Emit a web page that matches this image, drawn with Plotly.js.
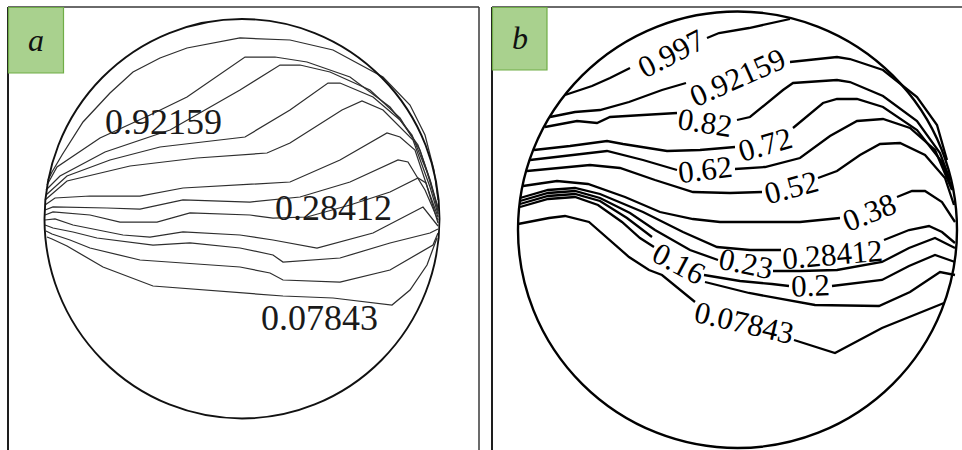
<!DOCTYPE html>
<html>
<head>
<meta charset="utf-8">
<script src="https://cdn.plot.ly/plotly-3.0.1.min.js"></script>
<style>
  html, body { margin: 0; padding: 0; background: #ffffff; }
  #chart { width: 962px; height: 450px; }
</style>
</head>
<body>
<div id="chart"></div>
<script>
// Contour levels, top to bottom (same set in both panels)
const levels = [0.997, 0.92159, 0.82, 0.72, 0.62, 0.52, 0.38, 0.28412, 0.23, 0.2, 0.16, 0.07843];

// Panel a: digitised isolines, [x, y] in drawing units (y grows downward)
const a1  = [[48,180],[52,172],[62,155],[83,122],[110,93],[133,72],[160,58],[187,48],[240,38],[290,40],[333,50],[383,77],[410,105],[425,135],[434,170],[438,200]];
const a2  = [[47,185],[57,167],[100,138],[150,115],[187,97],[245,57],[275,57],[307,62],[350,77],[390,107],[412,135],[427,172],[437,205]];
const a3  = [[46,190],[60,176],[105,152],[170,130],[240,90],[280,65],[300,65],[330,72],[370,90],[400,118],[420,150],[431,183],[438,208]];
const a4  = [[46,195],[67,176],[110,160],[160,147],[245,137],[290,110],[328,83],[340,83],[373,97],[400,120],[418,145],[430,180],[438,211]];
const a5  = [[45,200],[67,181],[130,166],[197,158],[267,153],[290,143],[342,110],[362,101],[383,110],[413,140],[430,187],[438,214]];
const a6  = [[45,205],[55,198],[90,196],[140,196],[183,188],[250,184],[290,182],[340,160],[387,133],[400,137],[415,150],[430,195],[438,217]];
const a7  = [[45,210],[53,207],[107,208],[140,209],[183,200],[250,202],[300,197],[350,182],[398,160],[408,162],[425,190],[438,220]];
const a8  = [[45,215],[53,212],[90,215],[120,222],[157,222],[190,213],[250,215],[273,218],[307,217],[350,205],[390,192],[418,178],[426,183],[438,223]];
const a9  = [[45,220],[55,219],[73,225],[123,235],[150,237],[183,232],[240,235],[273,240],[317,248],[373,233],[423,207],[438,226]];
const a10 = [[45,225],[53,228],[73,232],[97,238],[153,245],[190,243],[240,248],[273,255],[283,262],[340,258],[390,243],[430,233],[438,229]];
const a11 = [[46,231],[52,234],[70,240],[90,248],[140,260],[240,267],[270,273],[283,280],[340,282],[390,270],[433,245],[438,233]];
const a12 = [[47,237],[52,239],[67,246],[103,267],[153,286],[250,294],[283,296],[333,298],[373,303],[392,305],[410,290],[427,265],[437,238]];
const aLines = [a1, a2, a3, a4, a5, a6, a7, a8, a9, a10, a11, a12];

// Panel a: labelled levels and where their labels sit
const aLabelLevel = [0.92159, 0.28412, 0.07843];
const aLabelX = [163, 333, 319];
const aLabelY = [122, 208, 318];

// Panel b: digitised isolines (null = break where the label sits)
const b1  = [[85,95],[112,86],[130,78],[150,68],null,[227,38],[239,33],[269,28],[310,19]];
const b2  = [[70,117],[95,112],[120,110],[149,102],[182,90],[206,83],null,[310,62],[357,57],[370,59],[403,70],[437,97],[457,125],[467,160]];
const b3  = [[65,127],[97,121],[117,123],[130,117],[163,115],[197,113],null,[257,120],[270,117],[303,90],[313,83],[357,80],[370,82],[403,96],[437,121],[460,153],[470,180]];
const b4  = [[54,150],[90,146],[127,141],[143,144],[187,151],[220,150],[255,147],null,[313,128],[343,103],[357,99],[377,99],[403,107],[437,130],[462,162],[472,188]];
const b5  = [[50,160],[90,155],[127,151],[163,160],[197,170],null,[255,169],[285,167],[320,158],[350,136],[377,121],[403,119],[430,128],[455,150],[472,190]];
const b6  = [[47,171],[80,168],[110,165],[140,168],[175,180],[213,192],[250,193],[282,192],null,[338,178],[357,171],[380,155],[400,144],[420,143],[445,155],[465,178],[474,205]];
const b7  = [[43,186],[77,181],[108,184],[145,197],[180,212],[213,219],[240,222],[280,222],[320,222],[360,218],null,[417,197],[432,191],[445,191],[462,202],[475,222]];
const b8  = [[40,198],[68,190],[95,188],[120,194],[163,212],[203,232],[237,247],[270,250],[301,250],null,[404,240],[429,230],[449,226],[462,232],[475,243]];
const b9  = [[40,201],[68,193],[95,191],[120,198],[150,213],[175,230],[210,250],[238,260],null,[293,271],[320,271],[357,270],[402,262],[429,248],[455,238],[475,248]];
const b10 = [[40,204],[68,196],[95,194],[120,201],[147,218],[165,232],[172,237],null,[224,275],[260,281],[292,284],[309,286],null,[352,286],[402,280],[429,266],[455,255],[475,262]];
const b11 = [[40,207],[68,199],[95,197],[118,205],[142,222],[160,238],[174,247],null,[225,282],[269,293],[335,305],[399,306],[430,292],[460,272],[475,275]];
const b12 = [[38,224],[69,218],[85,216],[109,222],[149,257],[169,270],[182,275],[215,302],null,[314,340],[355,353],[402,328],[464,303]];
const bLines = [b1, b2, b3, b4, b5, b6, b7, b8, b9, b10, b11, b12];

// Panel b: label placement for each level
const bLabelX = [191, 257, 225, 285, 225, 311, 389, 352, 266, 330, 199, 264];
const bLabelY = [53, 77, 122, 144, 169, 187, 212, 254, 263, 285, 263, 322];
const bLabelAngle = [-27, -24, 9, -16, -7, -15, -22, -5, 12, -2, 28, 13];

const serif = 'Liberation Serif, Times New Roman, serif';

function lineTrace(pts, xa, ya, color, width, level) {
  return {
    type: 'scatter', mode: 'lines', xaxis: xa, yaxis: ya,
    x: pts.map(p => p ? p[0] : null),
    y: pts.map(p => p ? p[1] : null),
    line: { color: color, width: width, shape: 'linear' },
    connectgaps: false, hoverinfo: 'skip', showlegend: false, name: String(level)
  };
}

const traces = [];
aLines.forEach((pts, i) => traces.push(lineTrace(pts, 'x', 'y', '#2e2e2e', 1.25, levels[i])));
bLines.forEach((pts, i) => traces.push(lineTrace(pts, 'x2', 'y2', '#000000', 2.3, levels[i])));

const annotations = [];
aLabelLevel.forEach((lv, i) => annotations.push({
  xref: 'x', yref: 'y', x: aLabelX[i], y: aLabelY[i], text: String(lv),
  showarrow: false, xanchor: 'center', yanchor: 'middle',
  font: { family: serif, size: 36, color: '#1a1a1a' }
}));
levels.forEach((lv, i) => annotations.push({
  xref: 'x2', yref: 'y2', x: bLabelX[i], y: bLabelY[i], text: String(lv),
  showarrow: false, xanchor: 'center', yanchor: 'middle', textangle: bLabelAngle[i],
  font: { family: serif, size: 31, color: '#000000' }
}));
annotations.push({
  xref: 'x', yref: 'y', x: 36, y: 40, text: '<i>a</i>', showarrow: false,
  xanchor: 'center', yanchor: 'middle', font: { family: serif, size: 32, color: '#111' }
});
annotations.push({
  xref: 'x2', yref: 'y2', x: 39.5, y: 38, text: '<i>b</i>', showarrow: false,
  xanchor: 'center', yanchor: 'middle', font: { family: serif, size: 32, color: '#111' }
});

const shapes = [
  // panel a frame
  { type: 'line', xref: 'x', yref: 'y', x0: 8, x1: 8, y0: 7, y1: 450, line: { color: '#1e1e1e', width: 2 } },
  { type: 'line', xref: 'x', yref: 'y', x0: 8, x1: 479, y0: 7, y1: 7, line: { color: '#6a6a6a', width: 2 } },
  { type: 'line', xref: 'x', yref: 'y', x0: 479, x1: 479, y0: 7, y1: 450, line: { color: '#3a3a3a', width: 1.5 } },
  // panel b frame
  { type: 'line', xref: 'x2', yref: 'y2', x0: 12, x1: 12, y0: 7, y1: 450, line: { color: '#1e1e1e', width: 2 } },
  { type: 'line', xref: 'x2', yref: 'y2', x0: 12, x1: 482, y0: 7, y1: 7, line: { color: '#6a6a6a', width: 2 } },
  // tag boxes
  { type: 'rect', xref: 'x', yref: 'y', x0: 8.5, x1: 63.5, y0: 7.5, y1: 73, fillcolor: '#a9d18e', line: { color: '#70ad47', width: 1.2 } },
  { type: 'rect', xref: 'x2', yref: 'y2', x0: 12.5, x1: 67, y0: 7.5, y1: 70, fillcolor: '#a9d18e', line: { color: '#70ad47', width: 1.2 } },
  // boundary circles
  { type: 'circle', xref: 'x', yref: 'y', x0: 44.5, x1: 439.5, y0: 19, y1: 418.5, line: { color: '#111111', width: 1.9 } },
  { type: 'circle', xref: 'x2', yref: 'y2', x0: 38, x1: 477, y0: 11.5, y1: 448, line: { color: '#000000', width: 2.4 } }
];

const axisCommon = { visible: false, showgrid: false, zeroline: false, fixedrange: true };
const layout = {
  width: 962, height: 450,
  margin: { l: 0, r: 0, t: 0, b: 0, pad: 0 },
  paper_bgcolor: '#ffffff', plot_bgcolor: '#ffffff',
  showlegend: false,
  xaxis: Object.assign({ domain: [0, 480 / 962], range: [0, 480], anchor: 'y' }, axisCommon),
  yaxis: Object.assign({ domain: [0, 1], range: [450, 0], anchor: 'x' }, axisCommon),
  xaxis2: Object.assign({ domain: [480 / 962, 1], range: [0, 482], anchor: 'y2' }, axisCommon),
  yaxis2: Object.assign({ domain: [0, 1], range: [450, 0], anchor: 'x2' }, axisCommon),
  shapes: shapes,
  annotations: annotations
};

Plotly.newPlot('chart', traces, layout, { staticPlot: true, displayModeBar: false });
</script>
</body>
</html>
